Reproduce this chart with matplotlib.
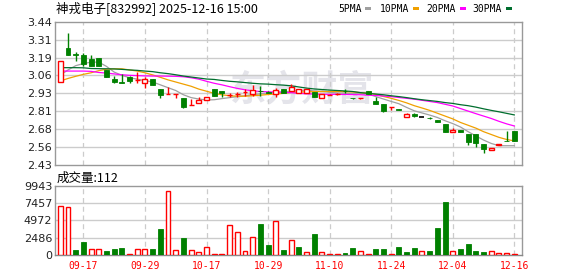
import matplotlib
matplotlib.use("Agg")
import matplotlib.pyplot as plt
from matplotlib.patches import Rectangle

# ---------------- data ----------------
title = "神戎电子[832992] 2025-12-16 15:00"
vol_title = "成交量:112"
x_tick_idx = [3, 11, 19, 27, 35, 43, 51, 59]
x_tick_labels = ["09-17", "09-29", "10-17", "10-29", "11-10", "11-24", "12-04", "12-16"]
price_ticks = [3.44, 3.31375, 3.1875, 3.06125, 2.935, 2.80875, 2.6825, 2.55625, 2.43]
price_tick_labels = ["3.44", "3.31", "3.19", "3.06", "2.93", "2.81", "2.68", "2.56", "2.43"]
vol_ticks = [0, 2486, 4972, 7457, 9943]
vol_tick_labels = ["0", "2486", "4972", "7457", "9943"]

opens = [3.017, 3.255, 3.214, 3.205, 3.177, 3.184, 3.100, 3.036, 3.017, 3.048,
         3.028, 3.006, 3.036, 2.964, 2.929, 2.929, 2.902, 2.852, 2.867, 2.888,
         2.964, 2.953, 2.924, 2.929, 2.942, 2.928, 2.955, 2.945, 2.930, 2.963,
         2.952, 2.935, 2.935, 2.942, 2.902, 2.924, 2.929, 2.952, 2.902, 2.899,
         2.952, 2.883, 2.858, 2.836, 2.822, 2.766, 2.788, 2.766, 2.762, 2.747,
         2.719, 2.665, 2.675, 2.649, 2.649, 2.578, 2.536, 2.571, 2.602, 2.672]
highs = [3.161, 3.362, 3.226, 3.217, 3.207, 3.184, 3.100, 3.057, 3.069, 3.057,
         3.088, 3.052, 3.036, 2.964, 2.978, 2.931, 2.903, 2.895, 2.907, 2.911,
         2.964, 2.953, 2.935, 2.945, 2.963, 2.994, 2.990, 2.950, 2.970, 2.963,
         2.999, 2.963, 2.965, 2.942, 2.930, 2.930, 2.935, 2.963, 2.902, 2.901,
         2.952, 2.907, 2.858, 2.838, 2.824, 2.800, 2.799, 2.766, 2.766, 2.747,
         2.719, 2.689, 2.675, 2.649, 2.649, 2.578, 2.548, 2.578, 2.670, 2.672]
lows = [3.017, 3.207, 3.161, 3.130, 3.128, 3.130, 3.048, 3.006, 3.006, 3.006,
        3.006, 2.975, 2.996, 2.904, 2.929, 2.904, 2.830, 2.852, 2.867, 2.888,
        2.914, 2.910, 2.910, 2.910, 2.918, 2.916, 2.918, 2.935, 2.907, 2.940,
        2.950, 2.935, 2.935, 2.912, 2.902, 2.920, 2.925, 2.940, 2.898, 2.895,
        2.930, 2.860, 2.804, 2.816, 2.815, 2.766, 2.766, 2.766, 2.757, 2.735,
        2.665, 2.665, 2.660, 2.571, 2.559, 2.517, 2.536, 2.571, 2.600, 2.601]
closes = [3.161, 3.207, 3.203, 3.140, 3.128, 3.130, 3.052, 3.015, 3.006, 3.020,
          3.030, 3.036, 2.996, 2.923, 2.931, 2.931, 2.841, 2.854, 2.886, 2.911,
          2.914, 2.935, 2.926, 2.931, 2.944, 2.962, 2.952, 2.940, 2.960, 2.940,
          2.980, 2.963, 2.965, 2.912, 2.930, 2.926, 2.931, 2.950, 2.900, 2.901,
          2.930, 2.860, 2.813, 2.838, 2.820, 2.790, 2.773, 2.766, 2.760, 2.735,
          2.665, 2.677, 2.660, 2.590, 2.583, 2.540, 2.548, 2.578, 2.600, 2.601]

volumes = [7060, 6870, 720, 1873, 816, 816, 576, 865, 1009, 144,
           816, 816, 816, 3747, 9200, 672, 2450, 672, 432, 1105,
           144, 144, 4323, 3266, 576, 2594, 4467, 1441, 4899, 720,
           2161, 1153, 480, 3026, 432, 144, 144, 288, 1009, 576,
           144, 865, 865, 144, 1153, 432, 1009, 576, 576, 3891,
           7637, 576, 865, 1585, 576, 432, 576, 288, 288, 112]
# 1 = up day (red), -1 = down day (green)
vol_dir = [1, 1, -1, -1, 1, 1, -1, -1, -1, 1,
           1, 1, -1, -1, 1, 1, -1, 1, 1, 1,
           1, 1, 1, 1, 1, 1, -1, -1, 1, -1,
           1, -1, 1, -1, 1, 1, 1, -1, -1, 1,
           1, -1, -1, 1, -1, -1, -1, 1, -1, -1,
           -1, 1, -1, -1, -1, -1, 1, 1, 1, 1]

ma5 = [3.064, 3.100, 3.130, 3.145, 3.155, 3.155, 3.125, 3.085, 3.062, 3.045,
       3.035, 3.025, 3.015, 2.995, 2.975, 2.955, 2.925, 2.905, 2.895, 2.888,
       2.890, 2.898, 2.905, 2.912, 2.918, 2.925, 2.932, 2.937, 2.942, 2.945,
       2.950, 2.955, 2.958, 2.952, 2.950, 2.942, 2.938, 2.936, 2.934, 2.932,
       2.930, 2.912, 2.895, 2.878, 2.862, 2.836, 2.812, 2.797, 2.782, 2.765,
       2.742, 2.722, 2.698, 2.665, 2.635, 2.606, 2.582, 2.566, 2.566, 2.566]
ma10 = [3.022, 3.040, 3.055, 3.069, 3.080, 3.095, 3.105, 3.108, 3.108, 3.100,
        3.092, 3.080, 3.065, 3.048, 3.030, 3.015, 3.000, 2.985, 2.965, 2.950,
        2.935, 2.925, 2.918, 2.915, 2.915, 2.918, 2.922, 2.927, 2.930, 2.935,
        2.942, 2.944, 2.946, 2.947, 2.948, 2.948, 2.948, 2.947, 2.945, 2.940,
        2.936, 2.928, 2.913, 2.900, 2.885, 2.868, 2.848, 2.832, 2.815, 2.795,
        2.775, 2.755, 2.730, 2.710, 2.690, 2.665, 2.645, 2.625, 2.610, 2.600]
ma20 = [3.092, 3.092, 3.092, 3.092, 3.090, 3.082, 3.078, 3.072, 3.066, 3.062,
        3.060, 3.058, 3.057, 3.057, 3.056, 3.055, 3.052, 3.045, 3.035, 3.020,
        3.006, 2.995, 2.982, 2.970, 2.960, 2.953, 2.948, 2.946, 2.944, 2.942,
        2.940, 2.935, 2.932, 2.930, 2.928, 2.928, 2.928, 2.927, 2.926, 2.925,
        2.922, 2.920, 2.916, 2.912, 2.906, 2.900, 2.894, 2.886, 2.878, 2.870,
        2.858, 2.846, 2.828, 2.810, 2.792, 2.775, 2.758, 2.738, 2.720, 2.705]
ma30 = [3.116, 3.116, 3.116, 3.115, 3.110, 3.109, 3.108, 3.107, 3.104, 3.100,
        3.097, 3.092, 3.088, 3.080, 3.074, 3.066, 3.057, 3.050, 3.043, 3.036,
        3.033, 3.026, 3.020, 3.016, 3.011, 3.006, 3.002, 3.000, 2.996, 2.993,
        2.988, 2.980, 2.972, 2.966, 2.962, 2.958, 2.955, 2.952, 2.948, 2.940,
        2.935, 2.930, 2.925, 2.918, 2.912, 2.905, 2.897, 2.890, 2.884, 2.878,
        2.870, 2.864, 2.855, 2.848, 2.838, 2.826, 2.815, 2.805, 2.794, 2.783]

ma_names = ["5PMA", "10PMA", "20PMA", "30PMA"]

# ---------------- style ----------------
RED = "#ff0000"
GREEN = "#008000"
MA_COLORS = ["#a0a0a0", "#f0a000", "#ff00ff", "#006e2e"]
GRID = "#cccccc"
SPINE = "#999999"
W, H = 578, 276

fig = plt.figure(figsize=(W / 100, H / 100), dpi=100)
fig.patch.set_facecolor("white")

left, right = 55, 522.3
ax = fig.add_axes([left / W, 1 - 165 / H, (right - left) / W, (165 - 21.7) / H])
axv = fig.add_axes([left / W, 1 - 255 / H, (right - left) / W, (255 - 186) / H])

n = len(closes)
xs = list(range(n))
xlim = (-0.69, 60.04)
bw = 0.64

for a in (ax, axv):
    a.set_xlim(*xlim)
    for s in a.spines.values():
        s.set_color(SPINE)
        s.set_linewidth(1.0)
    a.tick_params(length=0, labelsize=8, colors="#222222", pad=2)
    for xi in x_tick_idx:
        a.axvline(xi, color=GRID, lw=0.9, ls=(0, (4, 3)), zorder=0.5)

ax.set_ylim(2.43, 3.44)
ax.set_yticks(price_ticks)
ax.set_yticklabels(price_tick_labels)
ax.set_xticks([])
for t in price_ticks[1:-1]:
    ax.axhline(t, color=GRID, lw=1.0, zorder=0.5)

# watermark
ax.text(0.53, 0.52, "东方财富", transform=ax.transAxes, ha="center", va="center",
        fontsize=26, fontweight="bold", color="#e4e4ea", zorder=0.2,
        family=["Noto Sans CJK SC", "DejaVu Sans"])

# moving averages
for vals, col in zip([ma5, ma10, ma20, ma30], MA_COLORS):
    ax.plot(xs, vals, color=col, lw=0.9, zorder=2)

# candles
for i in range(n):
    o, h, l, c = opens[i], highs[i], lows[i], closes[i]
    if c > o:
        ax.vlines(i, c, h, color=RED, lw=1.0, zorder=3)
        ax.vlines(i, l, o, color=RED, lw=1.0, zorder=3)
        ax.add_patch(Rectangle((i - bw / 2, o), bw, c - o, facecolor="white",
                               edgecolor=RED, lw=1.0, zorder=4))
    elif c < o:
        ax.vlines(i, l, h, color=GREEN, lw=1.0, zorder=3)
        ax.add_patch(Rectangle((i - bw / 2, c), bw, o - c, facecolor=GREEN,
                               edgecolor=GREEN, lw=0.6, zorder=4))
    else:
        ax.vlines(i, l, h, color="black", lw=1.0, zorder=3)
        ax.hlines(c, i - bw / 2, i + bw / 2, color="black", lw=1.2, zorder=4)

# volume
axv.set_ylim(0, 9943)
axv.set_yticks(vol_ticks)
axv.set_yticklabels(vol_tick_labels)
for t in vol_ticks[1:-1]:
    axv.axhline(t, color=GRID, lw=1.0, zorder=0.5)
for i in range(n):
    if vol_dir[i] > 0:
        axv.bar(i, volumes[i], width=bw, facecolor="white", edgecolor=RED, lw=1.0, zorder=3)
    else:
        axv.bar(i, volumes[i], width=bw, facecolor=GREEN, edgecolor=GREEN, lw=0.6, zorder=3)
axv.set_xticks(x_tick_idx)
axv.set_xticklabels(x_tick_labels, color=RED, fontsize=7, family="DejaVu Sans Mono")
axv.tick_params(axis="x", pad=4)
axv.spines["bottom"].set_color("#888888")

# texts
fig.text(56 / W, 1 - 8.5 / H, title, ha="left", va="center", fontsize=9,
         family=["Noto Sans CJK SC", "DejaVu Sans"], color="black")
fig.text(57 / W, 1 - 178 / H, vol_title, ha="left", va="center", fontsize=9,
         family=["Noto Sans CJK SC", "DejaVu Sans"], color="black")

# legend
leg_x = [338, 380, 426, 472]
sw_x = [365, 413, 460, 506]
for name, col, tx, sx in zip(ma_names, MA_COLORS, leg_x, sw_x):
    fig.text(tx / W, 1 - 8.8 / H, name, ha="left", va="center", fontsize=7,
             family="DejaVu Sans Mono", color="black")
    fig.add_artist(Rectangle((sx / W, 1 - 9.5 / H), 6 / W, 2.2 / H,
                             transform=fig.transFigure, facecolor=col, edgecolor="none"))

fig.savefig("out.png", dpi=100)
